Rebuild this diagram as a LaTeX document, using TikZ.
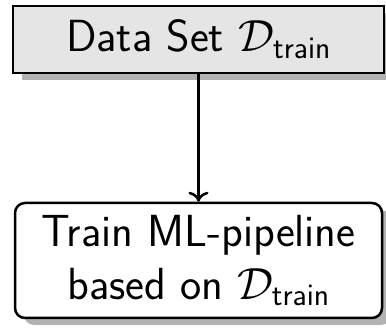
\RequirePackage{fix-cm}
\documentclass[tikz,border=0pt]{standalone}
\usepackage{amsmath}
\usepackage{tikz}
\usetikzlibrary{arrows.meta,positioning,shadows}

\begin{document}
\begin{tikzpicture}[x=1pt,y=1pt,>={To[length=10pt,width=20pt]}, line width=2.5pt,
  every node/.style={font=\sffamily\fontsize{45}{53}\selectfont},
  shade/.style={drop shadow={shadow xshift=9pt,shadow yshift=-7pt,fill=black!30,opacity=1}},
  databox/.style={draw,fill=black!10,shade,minimum width=371pt,minimum height=67pt,inner sep=0pt},
  trainbox/.style={draw,fill=white,shade,rounded corners=10pt,minimum width=367pt,minimum height=115pt,inner sep=0pt,align=center}]
\useasboundingbox (0,0) rectangle (386,329);
\node[databox] (data) at (198.5,289.5) {Data Set $\mathcal{D}_{\text{train}}$};
\node[trainbox] (train) at (198.5,68.5) {Train ML-pipeline\\based on $\mathcal{D}_{\text{train}}$};
\draw[->] (data) -- (train);
\end{tikzpicture}
\end{document}
